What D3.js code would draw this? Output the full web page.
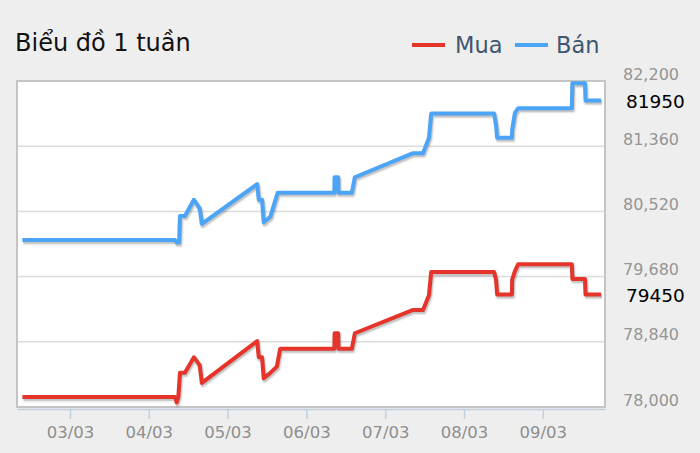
<!DOCTYPE html>
<html>
<head>
<meta charset="utf-8">
<script src="https://cdn.jsdelivr.net/npm/d3@7/dist/d3.min.js"></script>
<style>
  html, body { margin: 0; padding: 0; background: #eeeeee; }
  svg { display: block; }
</style>
</head>
<body>
<svg id="chart" width="700" height="453"></svg>
<script>
// ---- data ----
const title = "Biểu đồ 1 tuần";
const seriesNames = ["Mua", "Bán"];
const yTicks = [78000, 78840, 79680, 80520, 81360, 82200];
const lastValues = [79450, 81950];

const banTimes = [
  "2024-03-02 09:30","2024-03-04 08:00","2024-03-04 08:30","2024-03-04 09:15","2024-03-04 09:30",
  "2024-03-04 11:00","2024-03-04 13:45","2024-03-04 15:30","2024-03-04 16:10","2024-03-05 09:00",
  "2024-03-05 09:30","2024-03-05 10:30","2024-03-05 11:00","2024-03-05 13:00","2024-03-05 15:15",
  "2024-03-06 08:30","2024-03-06 08:35","2024-03-06 09:40","2024-03-06 09:45","2024-03-06 13:50",
  "2024-03-06 14:45","2024-03-07 08:30","2024-03-07 11:30","2024-03-07 13:20","2024-03-07 14:00",
  "2024-03-08 09:10","2024-03-08 09:45","2024-03-08 10:05","2024-03-08 14:35","2024-03-08 14:40",
  "2024-03-08 15:30","2024-03-08 16:30","2024-03-09 08:50","2024-03-09 09:00","2024-03-09 12:50",
  "2024-03-09 13:00","2024-03-09 17:45"
];
const banValues = [
  80150, 80150, 80120, 80120, 80460,
  80460, 80670, 80560, 80360, 80870,
  80670, 80670, 80380, 80450, 80760,
  80760, 80960, 80960, 80760, 80760,
  80960, 81270, 81270, 81470, 81780,
  81780, 81630, 81470, 81470, 81570,
  81790, 81850, 81850, 82170, 82170,
  81950, 81950
];

const muaTimes = [
  "2024-03-02 09:30","2024-03-04 08:00","2024-03-04 08:30","2024-03-04 09:00","2024-03-04 09:30",
  "2024-03-04 11:00","2024-03-04 13:45","2024-03-04 15:30","2024-03-04 16:10","2024-03-05 09:00",
  "2024-03-05 09:30","2024-03-05 10:30","2024-03-05 11:00","2024-03-05 13:00","2024-03-05 15:00",
  "2024-03-05 16:00","2024-03-06 08:30","2024-03-06 08:35","2024-03-06 09:40","2024-03-06 09:45",
  "2024-03-06 13:50","2024-03-06 14:45","2024-03-07 08:30","2024-03-07 11:30","2024-03-07 13:20",
  "2024-03-07 14:00","2024-03-08 09:10","2024-03-08 09:45","2024-03-08 10:05","2024-03-08 14:35",
  "2024-03-08 14:40","2024-03-08 15:30","2024-03-08 16:30","2024-03-09 08:50","2024-03-09 09:00",
  "2024-03-09 12:50","2024-03-09 13:00","2024-03-09 17:45"
];
const muaValues = [
  78130, 78130, 78060, 78130, 78440,
  78440, 78640, 78540, 78310, 78850,
  78640, 78640, 78370, 78440, 78520,
  78750, 78750, 78950, 78950, 78750,
  78750, 78950, 79250, 79250, 79440,
  79740, 79740, 79640, 79450, 79450,
  79640, 79750, 79840, 79840, 79650,
  79650, 79450, 79450
];

const colors = ["#e5342a", "#4ba4f5"];

// ---- layout ----
const svg = d3.select("#chart");
const plot = { left: 17, right: 605, top: 81, bottom: 407 };
const parse = d3.timeParse("%Y-%m-%d %H:%M");

const x = d3.scaleTime()
  .domain([parse("2024-03-02 07:52"), parse("2024-03-09 18:56")])
  .range([plot.left, plot.right]);
const y = d3.scaleLinear()
  .domain([78000, 82200])
  .range([plot.bottom, plot.top]);

// plot background
svg.append("rect")
  .attr("x", plot.left).attr("y", plot.top)
  .attr("width", plot.right - plot.left).attr("height", plot.bottom - plot.top)
  .attr("fill", "#ffffff");

// gridlines
svg.append("g").selectAll("line").data(yTicks.slice(1, -1)).join("line")
  .attr("x1", plot.left).attr("x2", plot.right)
  .attr("y1", d => y(d)).attr("y2", d => y(d))
  .attr("stroke", "#dcdcdc").attr("stroke-width", 1.5);

// plot border
svg.append("rect")
  .attr("x", plot.left).attr("y", plot.top)
  .attr("width", plot.right - plot.left).attr("height", plot.bottom - plot.top)
  .attr("fill", "none").attr("stroke", "#c4c4c4").attr("stroke-width", 2);

// x axis
const xAxis = d3.axisBottom(x)
  .ticks(d3.timeDay.every(1))
  .tickFormat(d3.timeFormat("%d/%m"))
  .tickSize(10).tickSizeOuter(0).tickPadding(4);
const gx = svg.append("g").attr("transform", `translate(0,${plot.bottom + 2})`).call(xAxis);
gx.select(".domain").attr("stroke", "#c0d0e0").attr("stroke-width", 1.5);
gx.selectAll(".tick line").attr("stroke", "#c0d0e0").attr("stroke-width", 1.5);
gx.selectAll(".tick text")
  .attr("fill", "#8e8e8e").attr("font-family", "DejaVu Sans").attr("font-size", 16.5)
  .attr("dy", "0.9em");

// y labels
const fmt = d3.format(",");
svg.append("g").selectAll("text").data(yTicks).join("text")
  .attr("x", 623).attr("y", d => y(d) - 7)
  .attr("dominant-baseline", "central")
  .attr("fill", "#959595").attr("font-family", "DejaVu Sans").attr("font-size", 16)
  .text(d => fmt(d));

// last value labels
svg.append("g").selectAll("text").data(lastValues).join("text")
  .attr("x", 626).attr("y", d => y(d) + 1)
  .attr("dominant-baseline", "central")
  .attr("fill", "#000").attr("font-family", "DejaVu Sans").attr("font-size", 18.5)
  .text(d => d);

// lines
const series = [
  { times: muaTimes, values: muaValues, color: colors[0] },
  { times: banTimes, values: banValues, color: colors[1] }
];
const line = d3.line().x(d => x(d.t)).y(d => y(d.v));
series.forEach(s => {
  const pts = s.times.map((t, i) => ({ t: parse(t), v: s.values[i] }));
  const g = svg.append("g");
  [[5, 0.04], [3, 0.08], [1.5, 0.12]].forEach(([w, o]) => {
    g.append("path").datum(pts).attr("d", line)
      .attr("fill", "none").attr("stroke", "#000").attr("stroke-opacity", o)
      .attr("stroke-width", w + 2).attr("stroke-linejoin", "round")
      .attr("transform", "translate(1,2)");
  });
  g.append("path").datum(pts).attr("d", line)
    .attr("fill", "none").attr("stroke", s.color).attr("stroke-width", 4)
    .attr("stroke-linejoin", "round").attr("stroke-linecap", "butt");
});

// title
svg.append("text").attr("x", 15).attr("y", 51)
  .attr("font-family", "DejaVu Sans").attr("font-size", 24).attr("fill", "#111")
  .text(title);

// legend
const legend = [
  { name: seriesNames[0], color: colors[0], lx: 412, tx: 455 },
  { name: seriesNames[1], color: colors[1], lx: 515, tx: 556 }
];
const lg = svg.append("g");
legend.forEach(l => {
  lg.append("line").attr("x1", l.lx).attr("x2", l.lx + 33)
    .attr("y1", 45).attr("y2", 45)
    .attr("stroke", l.color).attr("stroke-width", 4);
  lg.append("text").attr("x", l.tx).attr("y", 53)
    .attr("font-family", "DejaVu Sans").attr("font-size", 22.5).attr("fill", "#3e576f")
    .text(l.name);
});
</script>
</body>
</html>
